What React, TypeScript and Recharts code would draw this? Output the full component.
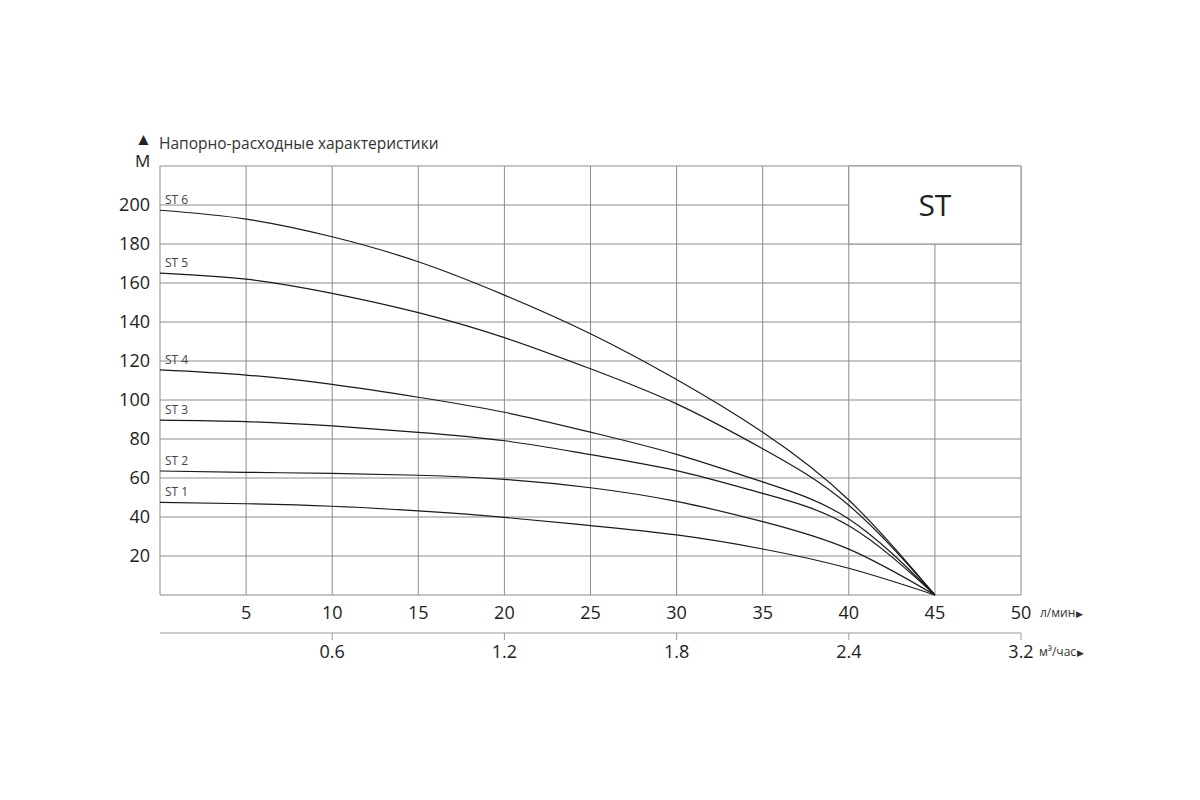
import {
    CartesianGrid,
    Line,
    LineChart,
    ReferenceArea,
    XAxis,
    YAxis,
} from "recharts";

// flow, l/min
const flow = [0, 5, 10, 15, 20, 25, 30, 35, 40, 45];

// head, m
const st1 = [47.5, 46.8, 45.5, 43.1, 39.8, 35.6, 30.8, 23.6, 13.7, 0];
const st2 = [63.6, 62.9, 62.4, 61.4, 59.3, 55, 48, 37.6, 23.5, 0];
const st3 = [89.7, 88.9, 86.7, 83.4, 79.1, 72, 63.8, 52.1, 35.5, 0];
const st4 = [115.4, 112.8, 108, 101.4, 93.7, 83.5, 72.1, 58, 39, 0];
const st5 = [165.1, 162, 154.7, 144.8, 132, 116, 98, 75, 46, 0];
const st6 = [197.3, 192.8, 183.7, 170.9, 153.8, 134, 110.5, 83.5, 48.7, 0];

const seriesNames = ["ST 1", "ST 2", "ST 3", "ST 4", "ST 5", "ST 6"];
const seriesKeys = ["st1", "st2", "st3", "st4", "st5", "st6"];

const flowTicks = [0, 5, 10, 15, 20, 25, 30, 35, 40, 45, 50];
const headTicks = [0, 20, 40, 60, 80, 100, 120, 140, 160, 180, 200, 220];
const m3Ticks = [10, 20, 30, 40, 50];
const m3Labels = ["0.6", "1.2", "1.8", "2.4", "3.2"];

const data = flow.map((f, i) => ({
    flow: f,
    st1: st1[i],
    st2: st2[i],
    st3: st3[i],
    st4: st4[i],
    st5: st5[i],
    st6: st6[i],
}));

const FONT = "'Open Sans', sans-serif";
const GRID = "#8c8c8c";
const INK = "#222";

const FlowTick = (props: any) => {
    const { x, y, payload } = props;
    if (payload.value === 0) return <g />;
    return (
        <g>
            <text x={x} y={y} dy="0.71em" textAnchor="middle" fontSize={18} fill={INK} fontFamily={FONT}>
                {payload.value}
            </text>
            {payload.value === 50 && (
                <text x={x + 19} y={y + 2} dy="0.71em" fontSize={12} fill="#333" fontFamily={FONT}>
                    л/мин
                    <tspan fontSize={9} dx={1}>▶</tspan>
                </text>
            )}
        </g>
    );
};

const M3Tick = (props: any) => {
    const { x, y, payload } = props;
    const label = m3Labels[m3Ticks.indexOf(payload.value)];
    return (
        <g>
            <text x={x} y={y} dy="0.71em" textAnchor="middle" fontSize={18} fill={INK} fontFamily={FONT}>
                {label}
            </text>
            {payload.value === 50 && (
                <text x={x + 18} y={y + 2} dy="0.71em" fontSize={12} fill="#333" fontFamily={FONT}>
                    м³/час
                    <tspan fontSize={9} dx={1}>▶</tspan>
                </text>
            )}
        </g>
    );
};

const seriesLabel = (name: string) => (props: any) => {
    if (props.index !== 0) return <g />;
    return (
        <text x={props.x + 5} y={props.y - 6} fontSize={12} fill="#444" fontFamily={FONT}>
            {name}
        </text>
    );
};

export default function App() {
    return (
        <div style={{ position: "absolute", left: 0, top: 0, width: 1200, height: 800, fontFamily: FONT }}>
            <div style={{ position: "absolute", left: 135, top: 130, fontSize: 17, lineHeight: "17px", color: INK }}>▲</div>
            <div style={{ position: "absolute", left: 135, top: 149, fontSize: 17, color: INK }}>М</div>
            <div style={{ position: "absolute", left: 159, top: 132, fontSize: 15.5, color: "#333" }}>
                Напорно-расходные характеристики
            </div>
            <LineChart
                width={1200}
                height={800}
                data={data}
                margin={{ top: 166, right: 179, left: 100, bottom: 127 }}
            >
                <CartesianGrid stroke={GRID} strokeWidth={1} />
                <XAxis
                    dataKey="flow"
                    type="number"
                    domain={[0, 50]}
                    ticks={flowTicks}
                    height={38}
                    axisLine={false}
                    tickLine={false}
                    tickSize={0}
                    tickMargin={11}
                    tick={<FlowTick />}
                    interval={0}
                />
                <XAxis
                    xAxisId="m3"
                    dataKey="flow"
                    type="number"
                    domain={[0, 50]}
                    ticks={m3Ticks}
                    height={40}
                    axisLine={{ stroke: "#999" }}
                    tickLine={{ stroke: "#999" }}
                    tickSize={7}
                    tickMargin={5}
                    tick={<M3Tick />}
                    interval={0}
                />
                <YAxis
                    type="number"
                    domain={[0, 220]}
                    ticks={headTicks}
                    width={60}
                    axisLine={false}
                    tickLine={false}
                    tickSize={0}
                    tickMargin={10}
                    interval={0}
                    tickFormatter={(v: number) => (v === 0 || v === 220 ? "" : String(v))}
                    tick={{ fontSize: 18, fill: INK, fontFamily: FONT }}
                />
                <ReferenceArea
                    x1={40}
                    x2={50}
                    y1={180}
                    y2={220}
                    fill="#fff"
                    fillOpacity={1}
                    stroke={GRID}
                    strokeWidth={1}
                    label={{ value: "ST", position: "center", fontSize: 30, fill: INK, fontFamily: FONT }}
                />
                {seriesKeys.map((k, i) => (
                    <Line
                        key={k}
                        dataKey={k}
                        type="natural"
                        stroke="#1a1a1a"
                        strokeWidth={1.2}
                        dot={false}
                        isAnimationActive={false}
                        label={seriesLabel(seriesNames[i])}
                    />
                ))}
            </LineChart>
        </div>
    );
}
